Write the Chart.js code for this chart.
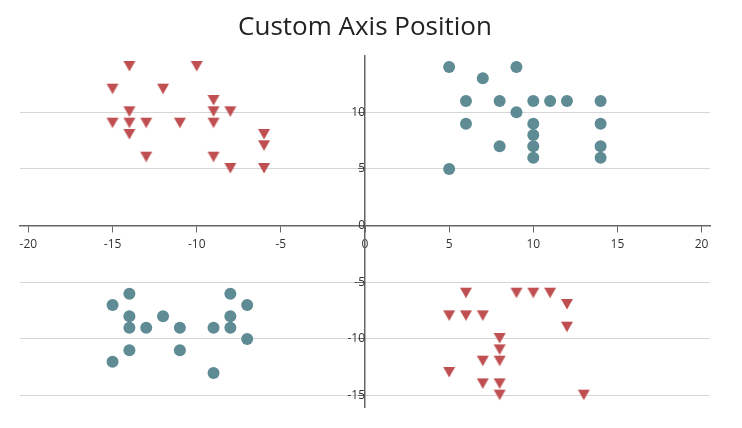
<!DOCTYPE html>
<html>
<head>
<meta charset="utf-8">
<title>Custom Axis Position</title>
<script src="https://cdn.jsdelivr.net/npm/chart.js@4/dist/chart.umd.min.js"></script>
<style>
    html, body { margin: 0; padding: 0; background: #fff; }
    #wrap { width: 742px; height: 428px; position: relative; }
</style>
</head>
<body>
<div id="wrap"><canvas id="scatterChart"></canvas></div>
<script>
// top-left quadrant (red triangles)
const redTopX = [-14, -10, -15, -12, -9, -14, -9, -8, -15, -14, -13, -11, -9, -14, -6, -6, -13, -9, -8, -6];
const redTopY = [14, 14, 12, 12, 11, 10, 10, 10, 9, 9, 9, 9, 9, 8, 8, 7, 6, 6, 5, 5];

// bottom-right quadrant (red triangles)
const redBottomX = [6, 9, 10, 11, 12, 5, 6, 7, 12, 8, 8, 7, 8, 5, 7, 8, 8, 13];
const redBottomY = [-6, -6, -6, -6, -7, -8, -8, -8, -9, -10, -11, -12, -12, -13, -14, -14, -15, -15];

// top-right quadrant (teal circles)
const tealTopX = [5, 9, 7, 6, 8, 10, 11, 12, 14, 9, 6, 10, 14, 10, 8, 10, 14, 10, 14, 5];
const tealTopY = [14, 14, 13, 11, 11, 11, 11, 11, 11, 10, 9, 9, 9, 8, 7, 7, 7, 6, 6, 5];

// bottom-left quadrant (teal circles)
const tealBottomX = [-14, -8, -15, -7, -14, -12, -8, -14, -13, -11, -9, -8, -7, -14, -11, -15, -9];
const tealBottomY = [-6, -6, -7, -7, -8, -8, -8, -9, -9, -9, -9, -9, -10, -11, -11, -12, -13];

const RED = '#bf4f51';
const TEAL = '#5e8b94';

function toPoints(xs, ys) {
    return xs.map((x, i) => ({ x: x, y: ys[i] }));
}

// downward triangle marker, base sits a bit higher than the point
function triangleMarker(color) {
    const c = document.createElement('canvas');
    c.width = 14;
    c.height = 14;
    const g = c.getContext('2d');
    g.fillStyle = color;
    g.beginPath();
    g.moveTo(1, 1);
    g.lineTo(13, 1);
    g.lineTo(7, 11.5);
    g.closePath();
    g.fill();
    return c;
}

const ctx = document.getElementById('scatterChart').getContext('2d');

new Chart(ctx, {
    type: 'scatter',
    data: {
        datasets: [
            {
                label: 'Series 1',
                data: toPoints(redTopX, redTopY).concat(toPoints(redBottomX, redBottomY)),
                pointStyle: triangleMarker(RED),
                radius: 7,
                hoverRadius: 7,
                backgroundColor: RED,
                borderColor: RED,
                borderWidth: 0
            },
            {
                label: 'Series 2',
                data: toPoints(tealTopX, tealTopY).concat(toPoints(tealBottomX, tealBottomY)),
                pointStyle: 'circle',
                radius: 6,
                hoverRadius: 6,
                backgroundColor: TEAL,
                borderColor: TEAL,
                borderWidth: 0
            }
        ]
    },
    options: {
        responsive: true,
        maintainAspectRatio: false,
        animation: false,
        layout: {
            padding: { left: 20, right: 32, top: 0, bottom: 21 }
        },
        plugins: {
            legend: { display: false },
            tooltip: { enabled: false },
            title: {
                display: true,
                text: 'Custom Axis Position',
                color: '#222',
                font: { family: 'Open Sans', size: 26, weight: 'normal' },
                padding: { top: 12, bottom: 13 }
            }
        },
        scales: {
            x: {
                type: 'linear',
                position: { y: 0 },
                min: -20.5,
                max: 20.5,
                grid: {
                    drawOnChartArea: false,
                    drawTicks: true,
                    tickLength: 6,
                    tickColor: '#666'
                },
                border: { display: true, color: '#666', width: 1.5 },
                ticks: {
                    stepSize: 5,
                    includeBounds: false,
                    color: '#333',
                    padding: 6,
                    maxRotation: 0,
                    font: { family: 'Open Sans', size: 12 }
                }
            },
            y: {
                type: 'linear',
                position: { x: 0 },
                min: -16,
                max: 14.95,
                grid: {
                    color: '#d6d6d6',
                    drawTicks: true,
                    tickLength: 6,
                    tickColor: '#666'
                },
                border: { display: true, color: '#666', width: 1.5 },
                ticks: {
                    stepSize: 5,
                    includeBounds: false,
                    color: '#333',
                    padding: 2,
                    font: { family: 'Open Sans', size: 12 }
                }
            }
        }
    }
});
</script>
</body>
</html>
